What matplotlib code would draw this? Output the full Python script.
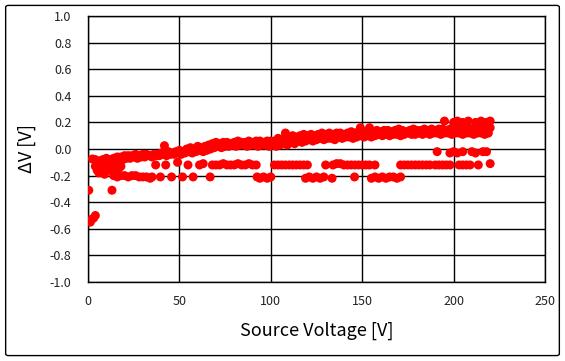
import matplotlib
matplotlib.use("Agg")
from matplotlib import pyplot as plt
from matplotlib.patches import FancyBboxPatch

plt.rcParams['font.family'] = ['Noto Sans CJK KR', 'DejaVu Sans']
plt.rcParams['axes.unicode_minus'] = False

# main band, upper edge (even voltages 4..220)
band_a_x = [4, 6, 8, 10, 12, 14, 16,
            18, 20, 22, 24, 26, 28, 30, 32, 34, 36, 38, 40,
            42, 44, 46, 48, 50, 52, 54, 56, 58, 60, 62, 64, 66,
            68, 70, 72, 74, 76, 78, 80, 82, 84, 86, 88, 90, 92, 94, 96, 98, 100,
            102, 104, 106, 108, 110, 112, 114, 116, 118, 120, 122, 124, 126, 128,
            130, 132, 134, 136, 138, 140, 142, 144, 146, 148, 150,
            152, 154, 156, 158, 160, 162, 164, 166, 168, 170, 172, 174, 176, 178,
            180, 182, 184, 186, 188, 190, 192, 194, 196, 198, 200,
            202, 204, 206, 208, 210, 212, 214, 216, 218, 220]
band_a_y = [-0.08, -0.09, -0.08, -0.07, -0.08, -0.07, -0.06,
            -0.06, -0.05, -0.05, -0.05, -0.04, -0.05, -0.04, -0.04, -0.05, -0.04, -0.04, -0.03,
            -0.03, -0.02, -0.03, -0.02, -0.01, -0.02, 0.00, 0.01, 0.00, 0.02, 0.01, 0.02, 0.03,
            0.04, 0.05, 0.04, 0.05, 0.05, 0.04, 0.05, 0.06, 0.05, 0.05, 0.06, 0.05, 0.06, 0.06, 0.05, 0.06, 0.06,
            0.06, 0.08, 0.07, 0.09, 0.08, 0.10, 0.09, 0.10, 0.11, 0.10, 0.11, 0.10, 0.11, 0.12,
            0.11, 0.12, 0.11, 0.12, 0.12, 0.11, 0.12, 0.13, 0.12, 0.13, 0.12,
            0.13, 0.14, 0.13, 0.14, 0.13, 0.14, 0.14, 0.13, 0.14, 0.15, 0.14, 0.13, 0.14, 0.15,
            0.14, 0.14, 0.15, 0.14, 0.15, 0.14, 0.15, 0.15, 0.14, 0.15, 0.16,
            0.15, 0.16, 0.15, 0.16, 0.15, 0.16, 0.15, 0.16, 0.15, 0.16]

# main band, lower edge (odd voltages 5..219)
band_b_x = [5, 7, 9, 11, 13, 15, 17,
            19, 21, 23, 25, 27, 29, 31, 33, 35, 37, 39, 41,
            43, 45, 47, 49, 51, 53, 55, 57, 59, 61, 63, 65, 67,
            69, 71, 73, 75, 77, 79, 81, 83, 85, 87, 89, 91, 93, 95, 97, 99, 101,
            103, 105, 107, 109, 111, 113, 115, 117, 119, 121, 123, 125, 127, 129,
            131, 133, 135, 137, 139, 141, 143, 145, 147, 149, 151,
            153, 155, 157, 159, 161, 163, 165, 167, 169, 171, 173, 175, 177, 179,
            181, 183, 185, 187, 189, 191, 193, 195, 197, 199, 201,
            203, 205, 207, 209, 211, 213, 215, 217, 219]
band_b_y = [-0.10, -0.12, -0.09, -0.11, -0.09, -0.10, -0.08,
            -0.08, -0.07, -0.07, -0.06, -0.07, -0.06, -0.06, -0.05, -0.06, -0.05, -0.05, -0.04,
            -0.05, -0.04, -0.04, -0.03, -0.04, -0.03, -0.02, -0.03, -0.02, -0.01, -0.02, -0.01, 0.00,
            0.01, 0.02, 0.01, 0.02, 0.02, 0.03, 0.02, 0.03, 0.03, 0.02, 0.03, 0.03, 0.02, 0.03, 0.03, 0.02, 0.03,
            0.02, 0.03, 0.04, 0.03, 0.05, 0.04, 0.06, 0.05, 0.06, 0.07, 0.06, 0.07, 0.08, 0.07,
            0.08, 0.08, 0.07, 0.09, 0.08, 0.09, 0.09, 0.08, 0.09, 0.10, 0.09,
            0.10, 0.09, 0.10, 0.11, 0.10, 0.11, 0.10, 0.11, 0.11, 0.10, 0.11, 0.12, 0.11, 0.11,
            0.12, 0.11, 0.12, 0.11, 0.12, 0.12, 0.11, 0.12, 0.12, 0.11, 0.12,
            0.12, 0.11, 0.12, 0.12, 0.11, 0.12, 0.12, 0.11, 0.12]

# upper row near 0.2 at the high end
top_x = [195, 200, 202, 205, 208, 212, 215, 218, 220]
top_y = [0.21, 0.20, 0.21, 0.20, 0.21, 0.20, 0.21, 0.20, 0.21]

# row near -0.02 at the high end
near0_x = [191, 198, 200, 202, 205, 210, 212, 216, 218]
near0_y = [-0.02, -0.03, -0.02, -0.03, -0.02, -0.02, -0.03, -0.02, -0.02]

# row near -0.12
mid_x = [37, 42.5, 49, 54.7, 61, 63, 68, 70, 72, 74, 76, 78, 80, 82, 84, 86, 88, 90, 92,
         102, 104, 106, 108, 110, 112, 114, 116, 118, 120, 130, 134, 136, 138, 140, 142, 144,
         146, 148, 150, 152, 154, 157, 171, 173, 175, 177, 179, 181, 183, 185, 187, 190,
         192, 194, 196, 198, 203, 205, 207, 209, 213.5, 220]
mid_y = [-0.12, -0.12, -0.10, -0.12, -0.12, -0.11, -0.12, -0.12, -0.12, -0.11, -0.12, -0.12,
         -0.12, -0.11, -0.12, -0.12, -0.11, -0.12, -0.12,
         -0.12, -0.12, -0.12, -0.12, -0.12, -0.12, -0.12, -0.12, -0.12, -0.12, -0.12, -0.12,
         -0.11, -0.11, -0.12, -0.12, -0.12, -0.12, -0.12, -0.12, -0.12, -0.12, -0.12,
         -0.12, -0.12, -0.12, -0.12, -0.12, -0.12, -0.12, -0.12, -0.12, -0.12,
         -0.12, -0.12, -0.12, -0.12, -0.12, -0.12, -0.12, -0.12, -0.12, -0.11]

# row near -0.21
low_x = [14, 16, 18, 20, 22, 24, 26, 28, 30, 32, 34, 35, 39.6, 45.7, 51.7, 57.5, 66.8,
         92.5, 94, 96, 98, 100, 119, 121, 123, 125, 127, 129, 133.5, 145.8,
         155, 157, 159, 161, 163, 165, 167, 169, 171]
low_y = [-0.20, -0.21, -0.20, -0.20, -0.21, -0.20, -0.20, -0.21, -0.21, -0.21, -0.22, -0.21,
         -0.21, -0.21, -0.21, -0.21, -0.21,
         -0.21, -0.22, -0.21, -0.22, -0.21, -0.22, -0.21, -0.22, -0.21, -0.22, -0.21, -0.22, -0.21,
         -0.22, -0.21, -0.22, -0.21, -0.22, -0.21, -0.21, -0.22, -0.21]

# early low-voltage scatter and outliers
early_x = [4, 5, 6, 7, 8, 9, 10, 11, 12, 13, 14, 15, 16, 17, 18,
           0.4, 13.1, 1.2, 2.0, 3.0, 4.0, 2.4, 41.8, 108, 149, 154]
early_y = [-0.13, -0.16, -0.18, -0.15, -0.17, -0.19, -0.14, -0.15, -0.13, -0.16, -0.14,
           -0.15, -0.13, -0.14, -0.13,
           -0.31, -0.31, -0.55, -0.53, -0.52, -0.50, -0.075, 0.025, 0.12, 0.16, 0.16]

x_ticks = [0, 50, 100, 150, 200, 250]
y_ticks = [-1.0, -0.8, -0.6, -0.4, -0.2, 0.0, 0.2, 0.4, 0.6, 0.8, 1.0]

fig = plt.figure(figsize=(5.65, 3.61), dpi=100)
ax = fig.add_axes([0.1558, 0.2188, 0.8088, 0.7369])

# outer frame of the chart
frame = FancyBboxPatch((0.01, 0.015), 0.98, 0.97, boxstyle="round,pad=0,rounding_size=0.005",
                       transform=fig.transFigure, fill=False, edgecolor='black', linewidth=1.0)
fig.patches.append(frame)

for xs, ys in [(band_a_x, band_a_y), (band_b_x, band_b_y), (top_x, top_y),
               (near0_x, near0_y), (mid_x, mid_y), (low_x, low_y), (early_x, early_y)]:
    ax.scatter(xs, ys, s=42, color='#ff0000', edgecolors='none', zorder=3)

ax.set_xlim(0, 250)
ax.set_ylim(-1.0, 1.0)
ax.set_xticks(x_ticks)
ax.set_yticks(y_ticks)
ax.set_yticklabels([f'{v:.1f}' for v in y_ticks])
ax.grid(True, color='black', linewidth=1.0)
ax.set_axisbelow(True)
for sp in ax.spines.values():
    sp.set_color('black')
    sp.set_linewidth(1.0)
ax.tick_params(length=0, labelsize=9, colors='#222222')
ax.tick_params(axis='y', pad=12)
ax.tick_params(axis='x', pad=9)

ax.set_xlabel('Source Voltage [V]', fontsize=13, labelpad=10)
ax.set_ylabel('ΔV [V]', fontsize=13, labelpad=10)

fig.savefig('out.png', dpi=100)
